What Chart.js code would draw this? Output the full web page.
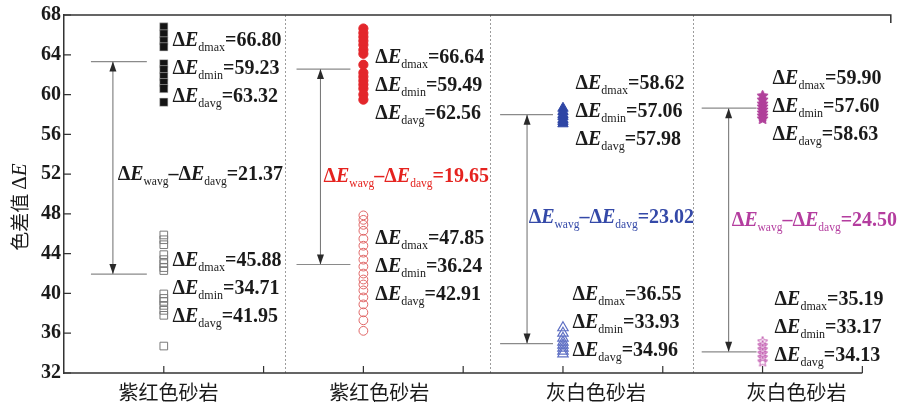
<!DOCTYPE html>
<html>
<head>
<meta charset="utf-8">
<script src="https://cdn.jsdelivr.net/npm/chart.js@4.4.1/dist/chart.umd.min.js"></script>
<style>
  html, body { margin: 0; padding: 0; background: #fff; }
  #wrap { width: 898px; height: 406px; position: relative; }
</style>
</head>
<body>
<div id="wrap"><canvas id="c"></canvas></div>
<script>
// ---- data ----
const categories = ['紫红色砂岩', '紫红色砂岩', '灰白色砂岩', '灰白色砂岩'];
const yTickValues = [32, 36, 40, 44, 48, 52, 56, 60, 64, 68];
const xTickValues = [1, 2, 3, 4, 5, 6, 7, 8];

// ΔE of every sample, upper (filled markers) and lower (hollow markers) group per column
const upperA = [66.80, 66.10, 65.40, 64.80, 63.10, 62.50, 61.80, 61.20, 60.60, 59.23];
const lowerA = [45.88, 45.40, 44.90, 43.90, 43.40, 43.00, 42.60, 42.30, 39.95, 39.50, 39.20, 38.80, 38.30, 37.80, 34.71];
const upperB = [66.64, 66.20, 65.80, 65.40, 65.00, 64.50, 64.10, 63.00, 62.20, 61.80, 61.40, 61.00, 60.60, 60.00, 59.49];
const lowerB = [47.85, 47.40, 46.90, 46.30, 45.50, 44.80, 44.10, 43.40, 42.70, 42.00, 41.40, 40.90, 40.30, 39.60, 38.90, 38.10, 37.30, 36.24];
const upperC = [58.62, 58.30, 58.00, 57.80, 57.50, 57.30, 57.06];
const lowerC = [36.55, 36.00, 35.50, 35.10, 34.80, 34.50, 34.20, 33.93];
const upperD = [59.90, 59.50, 59.10, 58.80, 58.50, 58.20, 57.90, 57.60];
const lowerD = [35.19, 34.80, 34.40, 34.00, 33.60, 33.17];

const upperAvg = [63.32, 62.56, 57.98, 58.63];
const lowerAvg = [41.95, 42.91, 34.96, 34.13];

// ---- layout (x in column units, y in ΔE units) ----
const X_MAX = 8.285;
const columnX = [1, 3, 5, 7];
const separatorX = [2.21, 4.27, 6.30];
const refLineX = [[0.27, 0.83, 0.49], [2.33, 2.87, 2.57], [4.37, 4.90, 4.64], [6.39, 6.94, 6.66]];
const upperTextPos = [[1.087, 65.54], [3.12, 63.85], [5.125, 61.27], [7.10, 61.76]];
const lowerTextPos = [[1.087, 43.49], [3.12, 45.68], [5.095, 40.02], [7.12, 39.52]];
const diffTextPos = [[0.538, 52.13], [2.60, 51.93], [4.656, 47.76], [6.69, 47.46]];
const categoryX = [1.047, 3.16, 5.33, 7.34];
const diffColors = ['#1a1a1a', '#e5231f', '#3449a8', '#b43d9f'];

const SERIF = '"Liberation Serif", "Times New Roman", serif';
const CJK = '"Noto Sans CJK SC", sans-serif';

function starImage(size, fill, stroke, filled) {
  const c = document.createElement('canvas');
  c.width = c.height = size;
  const g = c.getContext('2d');
  const cx = size / 2, R = size / 2 - 0.7, r = R * (filled ? 0.5 : 0.45);
  g.beginPath();
  for (let i = 0; i < 10; i++) {
    const a = -Math.PI / 2 + i * Math.PI / 5;
    const rr = i % 2 ? r : R;
    g.lineTo(cx + rr * Math.cos(a), cx + 0.5 + rr * Math.sin(a));
  }
  g.closePath();
  if (filled) { g.fillStyle = fill; g.fill(); }
  g.strokeStyle = stroke;
  g.lineWidth = 1;
  g.stroke();
  return c;
}

const pts = (arr, x) => arr.map(v => ({ x: x, y: v }));

const markerSets = [
  { data: pts(upperA, columnX[0]), pointStyle: 'rect', pointRadius: 5.8, backgroundColor: '#141414', borderColor: 'rgba(200,200,200,0.7)', borderWidth: 0.8 },
  { data: pts(lowerA, columnX[0]), pointStyle: 'rect', pointRadius: 5.4, backgroundColor: 'rgba(255,255,255,0)', borderColor: '#7a7a7a', borderWidth: 1 },
  { data: pts(upperB, columnX[1]), pointStyle: 'circle', pointRadius: 4.6, backgroundColor: '#e3262b', borderColor: '#e3262b', borderWidth: 1 },
  { data: pts(lowerB, columnX[1]), pointStyle: 'circle', pointRadius: 4.4, backgroundColor: 'rgba(255,255,255,0)', borderColor: '#e06666', borderWidth: 1 },
  { data: pts(upperC, columnX[2]), pointStyle: 'triangle', pointRadius: 6, backgroundColor: '#2f46a5', borderColor: '#2f46a5', borderWidth: 1 },
  { data: pts(lowerC, columnX[2]), pointStyle: 'triangle', pointRadius: 6, backgroundColor: 'rgba(255,255,255,0)', borderColor: '#5f70c4', borderWidth: 1.2 },
  { data: pts(upperD, columnX[3]), pointStyle: starImage(13, '#b0409a', '#b0409a', true) },
  { data: pts(lowerD, columnX[3]), pointStyle: starImage(12, '#fff', '#c058ae', false) }
];

const lineSets = [];
for (let i = 0; i < 4; i++) {
  const [a, b, ax] = refLineX[i];
  lineSets.push({ data: [{ x: a, y: upperAvg[i] }, { x: b, y: upperAvg[i] }], showLine: true, pointRadius: 0, borderColor: '#8a8a8a', borderWidth: 1.2 });
  lineSets.push({ data: [{ x: a, y: lowerAvg[i] }, { x: b, y: lowerAvg[i] }], showLine: true, pointRadius: 0, borderColor: '#8a8a8a', borderWidth: 1.2 });
  lineSets.push({ data: [{ x: ax, y: upperAvg[i] }, { x: ax, y: lowerAvg[i] }], showLine: true, pointRadius: 0, borderColor: '#7a7a7a', borderWidth: 1.1 });
}

// draws a run of text pieces with their own fonts and baseline shifts
function richText(ctx, x, y, parts, color) {
  ctx.save();
  ctx.fillStyle = color;
  ctx.textBaseline = 'alphabetic';
  ctx.textAlign = 'left';
  let cx = x;
  for (const p of parts) {
    ctx.font = p.f;
    ctx.fillText(p.t, cx, y + (p.dy || 0));
    cx += ctx.measureText(p.t).width + (p.gap || 0);
  }
  ctx.restore();
}

const F_MAIN = 'bold 20px ' + SERIF;
const F_ITAL = 'bold italic 20px ' + SERIF;
const F_SUB = '12px ' + SERIF;
const F_SUB_S = '11.5px ' + SERIF;
const deltaE = [{ t: 'Δ', f: F_MAIN }, { t: 'E', f: F_ITAL }];
const statParts = (sub, val) => [...deltaE, { t: sub, f: F_SUB, dy: 5 }, { t: '=' + val.toFixed(2), f: F_MAIN }];

const decor = {
  id: 'decor',
  beforeDatasetsDraw(chart) {
    const { ctx, chartArea: ca, scales: { x } } = chart;
    ctx.save();
    ctx.strokeStyle = '#9c9c9c';
    ctx.lineWidth = 1;
    ctx.setLineDash([2, 2]);
    for (const s of separatorX) {
      const px = Math.round(x.getPixelForValue(s)) + 0.5;
      ctx.beginPath(); ctx.moveTo(px, ca.top); ctx.lineTo(px, ca.bottom); ctx.stroke();
    }
    ctx.restore();
  },
  afterDatasetsDraw(chart) {
    const { ctx, chartArea: ca, scales: { x, y } } = chart;
    // arrowheads on the difference arrows
    ctx.save();
    ctx.fillStyle = '#2a2a2a';
    for (let i = 0; i < 4; i++) {
      const ax = x.getPixelForValue(refLineX[i][2]);
      const yt = y.getPixelForValue(upperAvg[i]);
      const yb = y.getPixelForValue(lowerAvg[i]);
      ctx.beginPath(); ctx.moveTo(ax, yt); ctx.lineTo(ax - 3.5, yt + 10); ctx.lineTo(ax + 3.5, yt + 10); ctx.closePath(); ctx.fill();
      ctx.beginPath(); ctx.moveTo(ax, yb); ctx.lineTo(ax - 3.5, yb - 10); ctx.lineTo(ax + 3.5, yb - 10); ctx.closePath(); ctx.fill();
    }
    ctx.restore();

    // axis frame: left via scale border, top line, bottom axis with inward ticks
    ctx.save();
    ctx.strokeStyle = '#333';
    ctx.lineWidth = 1.5;
    const xEnd = x.getPixelForValue(xTickValues[xTickValues.length - 1]);
    ctx.beginPath();
    ctx.moveTo(ca.left, ca.top); ctx.lineTo(ca.right, ca.top); ctx.lineTo(ca.right, ca.top + 8);
    ctx.moveTo(ca.left, ca.bottom); ctx.lineTo(xEnd, ca.bottom);
    ctx.stroke();
    ctx.lineWidth = 1.2;
    ctx.beginPath();
    for (const t of xTickValues) {
      const px = x.getPixelForValue(t);
      ctx.moveTo(px, ca.bottom); ctx.lineTo(px, ca.bottom - 7);
    }
    for (const t of yTickValues) {
      const py = y.getPixelForValue(t);
      ctx.moveTo(ca.left, py); ctx.lineTo(ca.left + 7, py);
    }
    ctx.stroke();
    ctx.restore();

    // statistic labels
    const groups = [[upperA, lowerA], [upperB, lowerB], [upperC, lowerC], [upperD, lowerD]];
    for (let i = 0; i < 4; i++) {
      const blocks = [
        [groups[i][0], upperAvg[i], upperTextPos[i]],
        [groups[i][1], lowerAvg[i], lowerTextPos[i]]
      ];
      for (const [arr, avg, pos] of blocks) {
        const px = x.getPixelForValue(pos[0]);
        const py = y.getPixelForValue(pos[1]) + 7;
        richText(ctx, px, py, statParts('dmax', Math.max(...arr)), '#1a1a1a');
        richText(ctx, px, py + 28, statParts('dmin', Math.min(...arr)), '#1a1a1a');
        richText(ctx, px, py + 56, statParts('davg', avg), '#1a1a1a');
      }
      const d = upperAvg[i] - lowerAvg[i];
      const px = x.getPixelForValue(diffTextPos[i][0]);
      const py = y.getPixelForValue(diffTextPos[i][1]) + 7;
      richText(ctx, px, py, [
        ...deltaE, { t: 'wavg', f: F_SUB_S, dy: 5 },
        { t: '–', f: F_MAIN },
        ...deltaE, { t: 'davg', f: F_SUB_S, dy: 5 },
        { t: '=' + d.toFixed(2), f: F_MAIN }
      ], diffColors[i]);
    }
  },
  afterDraw(chart) {
    const { ctx, chartArea: ca, scales: { x } } = chart;
    // category names under the columns
    ctx.save();
    ctx.fillStyle = '#1a1a1a';
    ctx.font = '20px ' + CJK;
    ctx.textAlign = 'center';
    ctx.textBaseline = 'middle';
    categories.forEach((c, i) => ctx.fillText(c, x.getPixelForValue(categoryX[i]), ca.bottom + 19));
    ctx.restore();

    // rotated axis title 色差值ΔE
    ctx.save();
    ctx.translate(20, 207);
    ctx.rotate(-Math.PI / 2);
    ctx.fillStyle = '#1a1a1a';
    ctx.textBaseline = 'middle';
    const partsT = [
      { t: '色差值', f: '19px ' + CJK },
      { t: 'Δ', f: '21px ' + SERIF },
      { t: 'E', f: 'italic 21px ' + SERIF }
    ];
    let w = 0;
    for (const p of partsT) { ctx.font = p.f; w += ctx.measureText(p.t).width; }
    w += 4;
    let cx = -w / 2;
    partsT.forEach((p, k) => {
      ctx.font = p.f;
      ctx.fillText(p.t, cx, 0);
      cx += ctx.measureText(p.t).width + (k === 0 ? 4 : 0);
    });
    ctx.restore();
  }
};

new Chart(document.getElementById('c'), {
  type: 'scatter',
  data: { datasets: [...markerSets, ...lineSets] },
  options: {
    responsive: true,
    maintainAspectRatio: false,
    animation: false,
    layout: { padding: { top: 10, right: 3, left: 0, bottom: 0 } },
    plugins: { legend: { display: false }, tooltip: { enabled: false } },
    scales: {
      x: {
        type: 'linear', min: 0, max: X_MAX,
        ticks: { display: false },
        grid: { display: false, drawTicks: false },
        border: { display: false },
        afterFit(s) { s.height = 33; }
      },
      y: {
        type: 'linear', min: 32, max: 68,
        afterBuildTicks(s) { s.ticks = yTickValues.map(v => ({ value: v })); },
        ticks: { color: '#1a1a1a', padding: 3, font: { family: SERIF, size: 20, weight: 'bold' } },
        grid: { display: true, drawOnChartArea: false, drawTicks: false },
        border: { display: true, color: '#333', width: 1.5 },
        afterFit(s) { s.width = 64; }
      }
    }
  },
  plugins: [decor]
});
</script>
</body>
</html>
